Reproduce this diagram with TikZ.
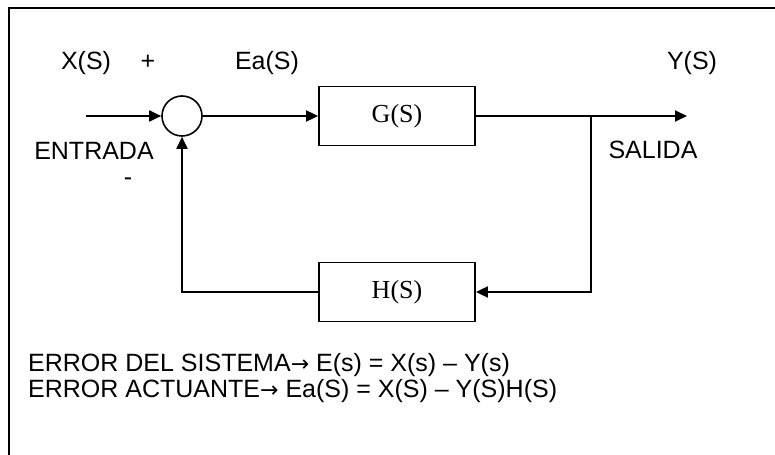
\documentclass[tikz,border=0pt]{standalone}
\usepackage{fontspec}
\setmainfont{Liberation Sans}
\newfontfamily\blkfont{Liberation Serif}
\newfontfamily\arrfont{DejaVu Sans}
\usepackage{tikz}
\usetikzlibrary{positioning,arrows.meta}
\tikzset{
  blk/.style   ={draw, line width=1.8bp, minimum width=156bp, minimum height=59bp, inner sep=0pt,
                 font=\blkfont\fontsize{26bp}{30bp}\selectfont},
  sumpt/.style ={circle, draw, line width=1.6bp, minimum size=40bp, inner sep=0pt},
  lbl/.style   ={font=\fontsize{25bp}{30bp}\selectfont, inner sep=0pt},
  sig/.style   ={line width=1.8bp},
  sigarr/.style={-{Triangle[length=12bp,width=11bp]}, line width=1.8bp},
}
\newcommand{\toarr}{{\arrfont\fontsize{22bp}{30bp}\selectfont →}}
\begin{document}
\begin{tikzpicture}[x=1bp, y=-1bp]
\useasboundingbox (0,0) rectangle (775,455);
% frame
\draw[line width=1.8bp] (9,455) -- (9,8) -- (775,8);
% blocks
\node[sumpt] (sum) at (182,116) {};
\node[blk] (G) at (397,116) {G(S)};
\node[blk] (H) at (397,292) {H(S)};
\coordinate (in) at (86,116);
\coordinate (split) at (591,116);
\coordinate (out) at (687,116);
% signals
\draw[sigarr] (in) -- (sum);
\draw[sigarr] (sum) -- (G);
\draw[sigarr] (G) -- (out);
\draw[sigarr] (split) |- (H);
\draw[sigarr] (H) -| (sum);
% labels
\node[lbl] (xs) at (86,63) {X(S)};
\node[lbl] (plus) at (148,62) {+};
\node[lbl] (eas) at (267,63) {Ea(S)};
\node[lbl] (ys) at (692,63) {Y(S)};
\node[lbl] (entrada) at (94,151) {ENTRADA};
\node[lbl] (minus) at (128,182) {-};
\node[lbl] (salida) at (653,150) {SALIDA};
\node[lbl, anchor=west] (err1) at (28,365) {ERROR DEL SISTEMA\toarr\ E(s) = X(s) – Y(s)};
\node[lbl, anchor=west] (err2) at (28,391) {ERROR ACTUANTE\toarr\ Ea(S) = X(S) – Y(S)H(S)};
\end{tikzpicture}
\end{document}
